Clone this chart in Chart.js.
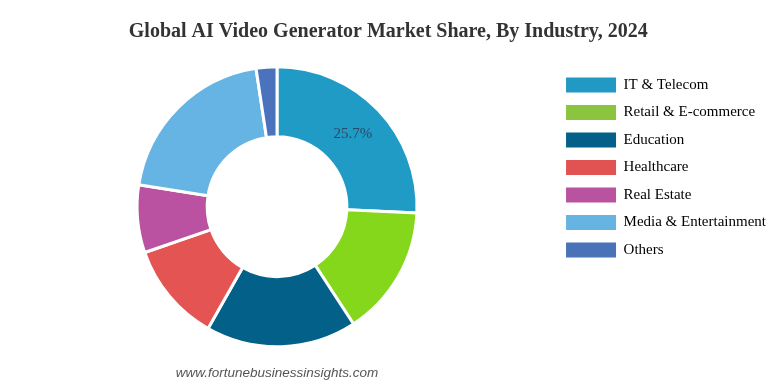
<!DOCTYPE html>
<html>
<head>
<meta charset="utf-8">
<script src="https://cdn.jsdelivr.net/npm/chart.js@4"></script>
<style>
html,body{margin:0;padding:0;background:#fff;}
#wrap{position:relative;width:778px;height:387px;}
</style>
</head>
<body>
<div id="wrap"><canvas id="c" width="778" height="387"></canvas></div>
<script>
const categories = ["IT & Telecom", "Retail & E-commerce", "Education", "Healthcare", "Real Estate", "Media & Entertainment", "Others"];
const shares = [25.7, 15.1, 17.4, 11.5, 7.8, 20.1, 2.4];
const sliceColors = ["#1f9bc6", "#84d71a", "#036088", "#e35452", "#bb52a1", "#66b4e3", "#4b72bd"];
const legendColors = ["#2199c4", "#8bc53f", "#056089", "#e05352", "#b9529f", "#65b4e2", "#4a72b8"];
const shownLabels = ["25.7%", null, null, null, null, null, null];
const titleText = "Global AI Video Generator Market Share, By Industry, 2024";
const footerText = "www.fortunebusinessinsights.com";

const labelPlugin = {
  id: 'labelPlugin',
  afterDatasetsDraw(chart) {
    const ctx = chart.ctx;
    const meta = chart.getDatasetMeta(0);
    ctx.save();
    ctx.font = '15px "Liberation Serif", "Times New Roman", serif';
    ctx.fillStyle = '#2a4a66';
    ctx.textAlign = 'center';
    ctx.textBaseline = 'middle';
    meta.data.forEach((arc, i) => {
      if (!shownLabels[i]) return;
      const p = arc.tooltipPosition();
      ctx.fillText(shownLabels[i], p.x, p.y);
    });
    ctx.restore();
  },
  afterDraw(chart) {
    const ctx = chart.ctx;
    const a = chart.chartArea;
    ctx.save();
    ctx.font = 'italic 13.5px "Liberation Sans", Arial, sans-serif';
    ctx.fillStyle = '#555555';
    ctx.textAlign = 'center';
    ctx.textBaseline = 'middle';
    ctx.fillText(footerText, (a.left + a.right) / 2, 373);
    ctx.restore();
  }
};

new Chart(document.getElementById('c'), {
  type: 'doughnut',
  data: {
    labels: categories,
    datasets: [{
      data: shares,
      backgroundColor: sliceColors,
      borderColor: '#ffffff',
      borderWidth: 3,
      hoverOffset: 0,
      radius: 140,
      cutout: 70
    }]
  },
  options: {
    responsive: false,
    animation: false,
    layout: { padding: { left: 0.5, right: 2, top: 0, bottom: 38.5 } },
    plugins: {
      title: {
        display: true,
        text: titleText,
        color: '#333333',
        font: { family: '"Liberation Serif", "Times New Roman", serif', size: 20, weight: 'bold', lineHeight: 1.2 },
        padding: { top: 20, bottom: 21 }
      },
      legend: {
        position: 'right',
        align: 'start',
        fullSize: false,
        labels: {
          boxWidth: 50,
          boxHeight: 15,
          padding: 12.5,
          color: '#333333',
          font: { family: '"Liberation Serif", "Times New Roman", serif', size: 15 },
          generateLabels(chart) {
            return categories.map((c, i) => ({
              text: c,
              fillStyle: legendColors[i],
              strokeStyle: legendColors[i],
              lineWidth: 0,
              hidden: false,
              index: i,
              datasetIndex: 0
            }));
          }
        }
      },
      tooltip: { enabled: false }
    }
  },
  plugins: [labelPlugin]
});
</script>
</body>
</html>
